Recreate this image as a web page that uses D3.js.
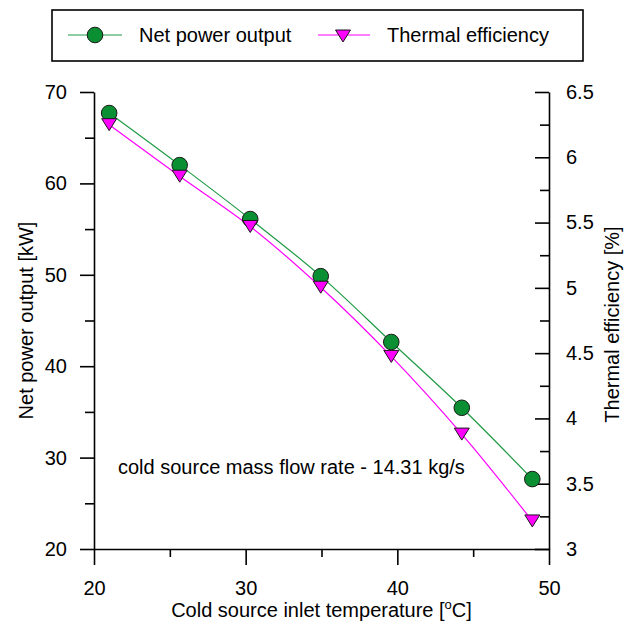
<!DOCTYPE html>
<html>
<head>
<meta charset="utf-8">
<script src="https://cdn.jsdelivr.net/npm/d3@7"></script>
<style>
  html, body { margin: 0; padding: 0; background: #fff; }
  svg { display: block; font-family: "Liberation Sans", Arial, sans-serif; }
</style>
</head>
<body>
<svg id="chart" width="635" height="626"></svg>
<script>
// Cold source inlet temperature [°C]
const temperature = [21, 25.65, 30.3, 34.95, 39.6, 44.25, 48.9];
// Net power output [kW]
const netPower = [67.7, 62.0, 56.1, 49.85, 42.65, 35.45, 27.65];
// Thermal efficiency [%]
const efficiency = [6.25, 5.855, 5.47, 5.005, 4.475, 3.88, 3.215];

const xTicks = [20, 30, 40, 50];
const xMinor = [25, 35, 45];
const yLeftTicks = [20, 30, 40, 50, 60, 70];
const yLeftMinor = [25, 35, 45, 55, 65];
const yRightTicks = [3, 3.5, 4, 4.5, 5, 5.5, 6, 6.5];
const yRightMinor = [3.25, 3.75, 4.25, 4.75, 5.25, 5.75, 6.25];

const svg = d3.select("#chart");
const plotLeft = 94, plotRight = 549, plotTop = 92, plotBottom = 549;
const fontSize = "20px";

const x = d3.scaleLinear().domain([20, 50]).range([plotLeft, plotRight]);
const yL = d3.scaleLinear().domain([20, 70]).range([plotBottom, plotTop]);
const yR = d3.scaleLinear().domain([3, 6.5]).range([plotBottom, plotTop]);

const green = "#0a8f32", greenLine = "#1f9a44", magenta = "#ff00ff";

function styleAxis(g) {
  g.selectAll("path").attr("stroke", "#000").attr("stroke-width", 1.6);
  g.selectAll("line").attr("stroke", "#000").attr("stroke-width", 1.6);
  g.selectAll("text").attr("fill", "#000").style("font-size", fontSize)
    .style("font-family", "'Liberation Sans', Arial, sans-serif");
}

// Bottom axis
svg.append("g").attr("transform", `translate(0,${plotBottom})`)
  .call(d3.axisBottom(x).tickValues(xTicks).tickFormat(d3.format("d"))
    .tickSizeInner(16).tickSizeOuter(0).tickPadding(16))
  .call(styleAxis);
svg.append("g").attr("transform", `translate(0,${plotBottom})`)
  .call(d3.axisBottom(x).tickValues(xMinor).tickFormat("").tickSizeInner(8).tickSizeOuter(0))
  .call(g => g.select("path").remove())
  .call(styleAxis);

// Left axis
svg.append("g").attr("transform", `translate(${plotLeft},0)`)
  .call(d3.axisLeft(yL).tickValues(yLeftTicks).tickFormat(d3.format("d"))
    .tickSizeInner(14).tickSizeOuter(0).tickPadding(13))
  .call(styleAxis);
svg.append("g").attr("transform", `translate(${plotLeft},0)`)
  .call(d3.axisLeft(yL).tickValues(yLeftMinor).tickFormat("").tickSizeInner(9).tickSizeOuter(0))
  .call(g => g.select("path").remove())
  .call(styleAxis);

// Right axis, ticks pointing into the plot
svg.append("g").attr("transform", `translate(${plotRight},0)`)
  .call(d3.axisRight(yR).tickValues(yRightTicks).tickFormat(d => String(d))
    .tickSizeInner(-14).tickSizeOuter(0).tickPadding(17))
  .call(styleAxis);
svg.append("g").attr("transform", `translate(${plotRight},0)`)
  .call(d3.axisRight(yR).tickValues(yRightMinor).tickFormat("").tickSizeInner(-9).tickSizeOuter(0))
  .call(g => g.select("path").remove())
  .call(styleAxis);

// Axis titles
const xt = svg.append("text").attr("x", (plotLeft + plotRight) / 2).attr("y", 617)
  .attr("text-anchor", "middle").style("font-size", fontSize);
xt.append("tspan").text("Cold source inlet temperature [");
xt.append("tspan").text("o").style("font-size", "13px").attr("dy", -8);
xt.append("tspan").text("C]").attr("dy", 8);

svg.append("text").attr("transform", `translate(33,${(plotTop + plotBottom) / 2}) rotate(-90)`)
  .attr("text-anchor", "middle").style("font-size", fontSize)
  .text("Net power output [kW]");
svg.append("text").attr("transform", `translate(619,${(plotTop + plotBottom) / 2 + 4}) rotate(-90)`)
  .attr("text-anchor", "middle").style("font-size", fontSize)
  .text("Thermal efficiency [%]");

// Series lines
const pts = temperature.map((t, i) => ({ t, p: netPower[i], e: efficiency[i] }));
svg.append("path").datum(pts)
  .attr("fill", "none").attr("stroke", greenLine).attr("stroke-width", 1.2)
  .attr("d", d3.line().x(d => x(d.t)).y(d => yL(d.p)).curve(d3.curveCatmullRom));
svg.append("path").datum(pts)
  .attr("fill", "none").attr("stroke", magenta).attr("stroke-width", 1.2)
  .attr("d", d3.line().x(d => x(d.t)).y(d => yR(d.e)).curve(d3.curveCatmullRom));

// Markers
const tri = "M-7.5,-6 L7.5,-6 L0,6 Z";
svg.append("g").selectAll("circle").data(pts).join("circle")
  .attr("cx", d => x(d.t)).attr("cy", d => yL(d.p)).attr("r", 7.8)
  .attr("fill", green).attr("stroke", "#1a1a1a").attr("stroke-width", 1);
svg.append("g").selectAll("path").data(pts).join("path")
  .attr("transform", d => `translate(${x(d.t)},${yR(d.e)})`)
  .attr("d", tri).attr("fill", magenta).attr("stroke", "#1a1a1a").attr("stroke-width", 1);

// Annotation
svg.append("text").attr("x", 118).attr("y", 474).style("font-size", fontSize)
  .text("cold source mass flow rate - 14.31 kg/s");

// Legend
const lg = svg.append("g");
lg.append("rect").attr("x", 52).attr("y", 10).attr("width", 531).attr("height", 51)
  .attr("fill", "#fff").attr("stroke", "#000").attr("stroke-width", 1.6);
lg.append("line").attr("x1", 68).attr("x2", 122).attr("y1", 35).attr("y2", 35)
  .attr("stroke", greenLine).attr("stroke-width", 1.2);
lg.append("circle").attr("cx", 95).attr("cy", 35).attr("r", 7.8)
  .attr("fill", green).attr("stroke", "#1a1a1a").attr("stroke-width", 1);
lg.append("text").attr("x", 139).attr("y", 42).style("font-size", fontSize).text("Net power output");
lg.append("line").attr("x1", 318).attr("x2", 370).attr("y1", 35).attr("y2", 35)
  .attr("stroke", magenta).attr("stroke-width", 1.2);
lg.append("path").attr("transform", "translate(343,36)").attr("d", tri)
  .attr("fill", magenta).attr("stroke", "#1a1a1a").attr("stroke-width", 1);
lg.append("text").attr("x", 387).attr("y", 42).style("font-size", fontSize).text("Thermal efficiency");
</script>
</body>
</html>
